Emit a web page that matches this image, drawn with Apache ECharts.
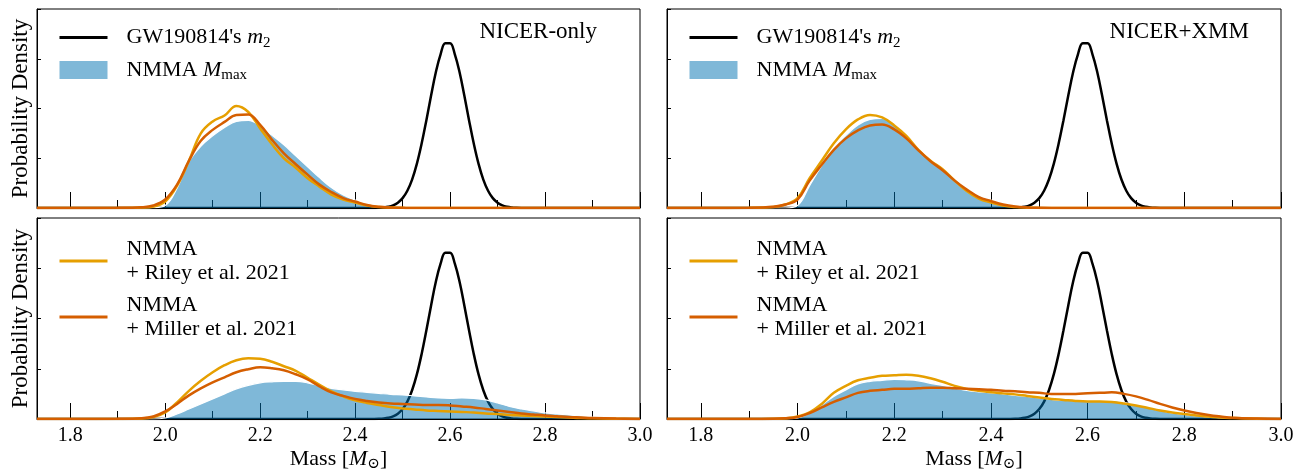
<!DOCTYPE html>
<html>
<head>
<meta charset="utf-8">
<script src="https://cdn.jsdelivr.net/npm/echarts@6/dist/echarts.min.js"></script>
<style>
html, body { margin: 0; padding: 0; background: #fff; }
#chart { width: 1305px; height: 475px; }
</style>
</head>
<body>
<div id="chart"></div>
<script>
// mass grid shared by the NMMA curves
var mass = [1.73, 1.8, 1.9, 1.95, 1.975, 2.0, 2.025, 2.05, 2.075, 2.1, 2.125, 2.15, 2.175, 2.2, 2.225,
  2.25, 2.275, 2.3, 2.325, 2.35, 2.375, 2.4, 2.425, 2.45, 2.475, 2.5, 2.525, 2.55, 2.575, 2.6,
  2.625, 2.65, 2.675, 2.7, 2.725, 2.75, 2.775, 2.8, 2.825, 2.85, 2.875, 2.9, 2.95, 3.0];

// GW190814 m2 (same in every panel)
var gwMass = [1.73, 2.42, 2.44, 2.45, 2.46, 2.47, 2.48, 2.49, 2.50, 2.51, 2.52, 2.53, 2.54, 2.55,
  2.56, 2.57, 2.58, 2.59, 2.60, 2.61, 2.62, 2.63, 2.64, 2.65, 2.66, 2.67, 2.68, 2.69, 2.70, 2.71,
  2.72, 2.73, 2.74, 2.75, 2.77, 3.0];
var gwDensity = [0, 0, 0.002, 0.005, 0.011, 0.025, 0.053, 0.106, 0.198, 0.347, 0.572, 0.887, 1.29, 1.76,
  2.26, 2.73, 3.09, 3.31, 3.31, 3.09, 2.73, 2.26, 1.76, 1.29, 0.887, 0.572, 0.347, 0.198, 0.106, 0.053,
  0.025, 0.011, 0.005, 0.002, 0, 0];

// NICER-only, top left
var nicerMmax = [0, 0, 0, 0, 0.005, 0.05, 0.4, 0.93, 1.24, 1.45, 1.62, 1.74, 1.76, 1.65, 1.46,
  1.27, 1.05, 0.83, 0.61, 0.41, 0.26, 0.16, 0.08, 0.03, 0.01, 0, 0, 0, 0, 0,
  0, 0, 0, 0, 0, 0, 0, 0, 0, 0, 0, 0, 0, 0];
var nicerRiley = [0, 0, 0.002, 0.01, 0.03, 0.13, 0.45, 0.95, 1.5, 1.74, 1.86, 2.05, 1.93, 1.6, 1.28,
  1.0, 0.81, 0.6, 0.43, 0.27, 0.17, 0.11, 0.05, 0.02, 0.008, 0.003, 0, 0, 0, 0,
  0, 0, 0, 0, 0, 0, 0, 0, 0, 0, 0, 0, 0, 0];
var nicerMiller = [0, 0, 0.003, 0.015, 0.05, 0.17, 0.47, 0.95, 1.35, 1.57, 1.73, 1.87, 1.88, 1.67, 1.37,
  1.1, 0.88, 0.67, 0.47, 0.32, 0.2, 0.13, 0.06, 0.025, 0.01, 0.004, 0, 0, 0, 0,
  0, 0, 0, 0, 0, 0, 0, 0, 0, 0, 0, 0, 0, 0];

// NICER+XMM, top right
var xmmMmax = [0, 0, 0, 0, 0, 0.05, 0.45, 0.85, 1.2, 1.46, 1.67, 1.78, 1.8, 1.68, 1.43,
  1.19, 0.97, 0.78, 0.58, 0.4, 0.25, 0.16, 0.08, 0.03, 0.01, 0, 0, 0, 0, 0,
  0, 0, 0, 0, 0, 0, 0, 0, 0, 0, 0, 0, 0, 0];
var xmmRiley = [0, 0, 0.003, 0.02, 0.07, 0.2, 0.6, 0.95, 1.3, 1.58, 1.78, 1.87, 1.82, 1.66, 1.45,
  1.17, 0.95, 0.78, 0.55, 0.34, 0.19, 0.11, 0.05, 0.02, 0.007, 0.002, 0, 0, 0, 0,
  0, 0, 0, 0, 0, 0, 0, 0, 0, 0, 0, 0, 0, 0];
var xmmMiller = [0, 0, 0.005, 0.025, 0.07, 0.17, 0.55, 0.87, 1.17, 1.4, 1.56, 1.66, 1.68, 1.58, 1.4,
  1.16, 0.94, 0.76, 0.55, 0.37, 0.22, 0.14, 0.07, 0.03, 0.012, 0.004, 0, 0, 0, 0,
  0, 0, 0, 0, 0, 0, 0, 0, 0, 0, 0, 0, 0, 0];

// NICER-only, bottom left
var nicerMmax2 = [0, 0, 0, 0, 0, 0.02, 0.1, 0.2, 0.3, 0.4, 0.5, 0.6, 0.67, 0.72, 0.74,
  0.75, 0.75, 0.72, 0.66, 0.61, 0.58, 0.55, 0.53, 0.51, 0.49, 0.48, 0.46, 0.44, 0.42, 0.41,
  0.42, 0.41, 0.38, 0.32, 0.25, 0.2, 0.16, 0.12, 0.1, 0.08, 0.06, 0.04, 0.015, 0];
var nicerRiley2 = [0, 0, 0.002, 0.01, 0.04, 0.13, 0.33, 0.56, 0.76, 0.93, 1.07, 1.17, 1.21, 1.2, 1.14,
  1.05, 0.96, 0.82, 0.68, 0.55, 0.45, 0.37, 0.32, 0.28, 0.24, 0.21, 0.19, 0.17, 0.16, 0.15,
  0.14, 0.13, 0.11, 0.1, 0.08, 0.07, 0.06, 0.05, 0.04, 0.03, 0.02, 0.015, 0.005, 0];
var nicerMiller2 = [0, 0, 0.003, 0.015, 0.05, 0.15, 0.3, 0.47, 0.61, 0.73, 0.83, 0.93, 0.99, 1.03, 1.01,
  0.97, 0.89, 0.79, 0.65, 0.53, 0.46, 0.4, 0.36, 0.33, 0.31, 0.3, 0.29, 0.28, 0.28, 0.27,
  0.25, 0.23, 0.2, 0.17, 0.14, 0.11, 0.09, 0.07, 0.055, 0.04, 0.03, 0.02, 0.008, 0.002];

// NICER+XMM, bottom right
var xmmMmax2 = [0, 0, 0, 0, 0, 0.02, 0.12, 0.28, 0.45, 0.58, 0.7, 0.75, 0.77, 0.79, 0.78,
  0.76, 0.71, 0.67, 0.62, 0.57, 0.54, 0.52, 0.5, 0.47, 0.45, 0.42, 0.39, 0.37, 0.37, 0.37,
  0.37, 0.37, 0.33, 0.28, 0.22, 0.17, 0.12, 0.09, 0.065, 0.04, 0.025, 0.015, 0.005, 0];
var xmmRiley2 = [0, 0, 0, 0.005, 0.015, 0.05, 0.13, 0.3, 0.52, 0.66, 0.77, 0.82, 0.86, 0.87, 0.88,
  0.86, 0.81, 0.74, 0.66, 0.6, 0.56, 0.53, 0.51, 0.49, 0.46, 0.43, 0.4, 0.38, 0.36, 0.35,
  0.35, 0.34, 0.31, 0.27, 0.22, 0.17, 0.13, 0.1, 0.07, 0.05, 0.03, 0.02, 0.006, 0];
var xmmMiller2 = [0, 0, 0, 0.005, 0.015, 0.04, 0.12, 0.23, 0.34, 0.43, 0.52, 0.56, 0.58, 0.6, 0.6,
  0.61, 0.62, 0.62, 0.61, 0.6, 0.59, 0.58, 0.56, 0.55, 0.53, 0.52, 0.5, 0.5, 0.5, 0.51,
  0.52, 0.53, 0.5, 0.45, 0.38, 0.3, 0.23, 0.17, 0.12, 0.08, 0.05, 0.025, 0.008, 0.002];

var panelLabels = ['NICER-only', 'NICER+XMM'];

var serif = "'Liberation Serif', 'DejaVu Serif', serif";
var cBlack = '#000000', cBlue = 'rgba(0,114,178,0.5)', cRiley = '#E69F00', cMiller = '#D55E00';

var legendText = {
  gw: "GW190814's {i|m}{s|2}",
  nmma: 'NMMA {i|M}{s|max}',
  riley: 'NMMA\n+ Riley et al. 2021',
  miller: 'NMMA\n+ Miller et al. 2021'
};
var rich = {
  i: { fontStyle: 'italic', fontFamily: serif, fontSize: 22, lineHeight: 26 },
  s: { fontFamily: serif, fontSize: 15, lineHeight: 18, verticalAlign: 'bottom' }
};

var grids = [
  { left: 37, top: 9, width: 603, height: 199 },
  { left: 667, top: 9, width: 614, height: 199 },
  { left: 37, top: 218, width: 603, height: 201 },
  { left: 667, top: 218, width: 614, height: 201 }
];
var panels = [
  { mmax: nicerMmax, riley: nicerRiley, miller: nicerMiller },
  { mmax: xmmMmax, riley: xmmRiley, miller: xmmMiller },
  { mmax: nicerMmax2, riley: nicerRiley2, miller: nicerMiller2 },
  { mmax: xmmMmax2, riley: xmmRiley2, miller: xmmMiller2 }
];

function pairs(xs, ys) {
  return xs.map(function (x, i) { return [x, ys[i]]; });
}

var xAxes = [], yAxes = [], series = [], legends = [];
grids.forEach(function (g, k) {
  g.show = true;
  g.borderColor = '#000';
  g.borderWidth = 1;
  var bottom = k >= 2, left = k % 2 === 0;
  // major ticks with labels
  xAxes.push({
    type: 'value', gridIndex: k, position: 'bottom', min: 1.73, max: 3.0,
    splitNumber: 6, minInterval: 0.2, maxInterval: 0.2,
    axisLine: { lineStyle: { color: '#000', width: 1 } },
    axisTick: { inside: true, length: 16, lineStyle: { color: '#000', width: 1 } },
    axisLabel: {
      show: bottom, showMinLabel: false, margin: 7, color: '#000',
      fontFamily: serif, fontSize: 20,
      formatter: function (v) { return v.toFixed(1); }
    },
    splitLine: { show: false },
    name: bottom ? 'Mass [{i|M}{s|⊙}]' : '',
    nameLocation: 'middle', nameGap: 27,
    nameTextStyle: { color: '#000', fontFamily: serif, fontSize: 22, rich: rich }
  });
  // minor ticks
  xAxes.push({
    type: 'value', gridIndex: k, position: 'bottom', min: 1.73, max: 3.0,
    splitNumber: 13, minInterval: 0.1, maxInterval: 0.1,
    axisLine: { show: false },
    axisTick: { inside: true, length: 8, lineStyle: { color: '#000', width: 1 } },
    axisLabel: { show: false },
    splitLine: { show: false }
  });
  yAxes.push({
    type: 'value', gridIndex: k, min: 0, max: 4, interval: 1,
    axisLine: { show: true, lineStyle: { color: '#000', width: 1 } },
    axisTick: { show: true, inside: true, length: 4, lineStyle: { color: '#000' } },
    axisLabel: { show: false },
    splitLine: { show: false },
    name: left ? 'Probability Density' : '',
    nameLocation: 'middle', nameGap: 5, nameRotate: 90,
    nameTextStyle: { color: '#000', fontFamily: serif, fontSize: 23 }
  });

  var xi = 2 * k;
  series.push({
    name: 'gw', type: 'line', xAxisIndex: xi, yAxisIndex: k, z: 2,
    data: pairs(gwMass, gwDensity), smooth: 0.4, symbol: 'none',
    itemStyle: { color: cBlack }, lineStyle: { color: cBlack, width: 2.5 }
  });
  series.push({
    name: 'nmma', type: 'line', xAxisIndex: xi, yAxisIndex: k, z: 3,
    data: pairs(mass, panels[k].mmax), smooth: 0.4, symbol: 'none',
    itemStyle: { color: cBlue },
    lineStyle: { color: '#ffffff', width: 1.2 },
    areaStyle: { color: cBlue, opacity: 1 }
  });
  series.push({
    name: 'riley', type: 'line', xAxisIndex: xi, yAxisIndex: k, z: 4,
    data: pairs(mass, panels[k].riley), smooth: 0.4, symbol: 'none',
    itemStyle: { color: cRiley }, lineStyle: { color: cRiley, width: 2.5 }
  });
  series.push({
    name: 'miller', type: 'line', xAxisIndex: xi, yAxisIndex: k, z: 5,
    data: pairs(mass, panels[k].miller), smooth: 0.4, symbol: 'none',
    itemStyle: { color: cMiller }, lineStyle: { color: cMiller, width: 2.5 }
  });

  legends.push({
    orient: 'vertical', left: left ? 58 : 688, top: bottom ? 237 : 24.5,
    padding: 0, itemWidth: 48, itemHeight: 18, itemGap: bottom ? 8 : 6.5,
    selectedMode: false,
    itemStyle: { opacity: 0 },
    lineStyle: { width: 3 },
    data: bottom ? ['riley', 'miller'] : [
      { name: 'gw' },
      { name: 'nmma', icon: 'rect', itemStyle: { color: cBlue, borderWidth: 0, opacity: 1 } }
    ],
    formatter: function (name) { return legendText[name]; },
    textStyle: {
      color: '#000', fontFamily: serif, fontSize: 22, lineHeight: bottom ? 24 : 26,
      padding: [0, 0, 0, 14], rich: rich
    }
  });
});

var myChart = echarts.init(document.getElementById('chart'));
myChart.setOption({
  animation: false,
  backgroundColor: '#fff',
  title: [
    { text: panelLabels[0], right: 1305 - 597, top: 20, padding: 0,
      textStyle: { color: '#000', fontFamily: serif, fontSize: 23, fontWeight: 'normal' } },
    { text: panelLabels[1], right: 1305 - 1249, top: 20, padding: 0,
      textStyle: { color: '#000', fontFamily: serif, fontSize: 23, fontWeight: 'normal' } }
  ],
  legend: legends,
  grid: grids,
  xAxis: xAxes,
  yAxis: yAxes,
  series: series
});
</script>
</body>
</html>
